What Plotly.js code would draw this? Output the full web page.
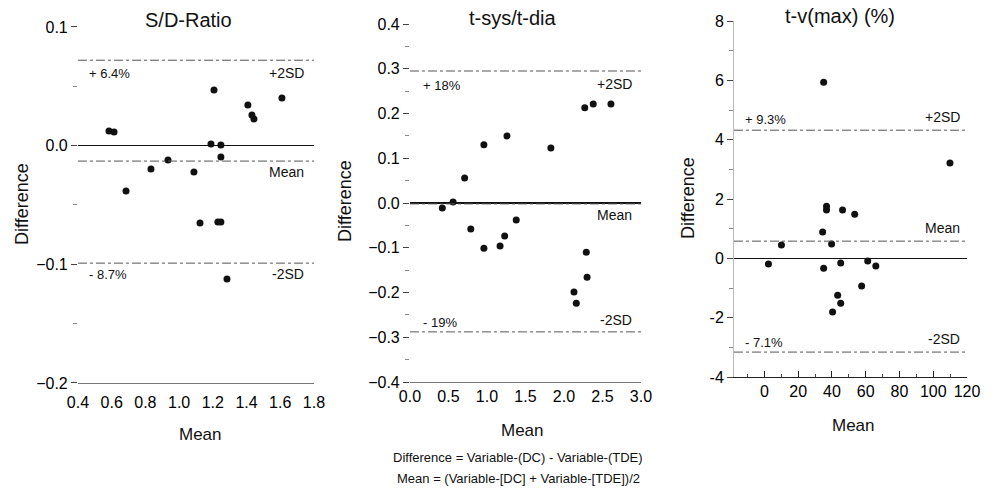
<!DOCTYPE html>
<html><head><meta charset="utf-8">
<script src="https://cdn.plot.ly/plotly-3.0.1.min.js"></script>
<style>html,body{margin:0;padding:0;background:#fff}#chart{width:997px;height:490px}</style>
</head><body><div id="chart"></div>
<script>
// ---- data ----
const panelTitles = ["S/D-Ratio", "t-sys/t-dia", "t-v(max) (%)"];

const sdMean = [0.584, 0.614, 0.685, 0.833, 0.934, 1.088, 1.124, 1.189, 1.207, 1.230, 1.248, 1.248, 1.248, 1.284, 1.408, 1.432, 1.444, 1.610];
const sdDiff = [0.0124, 0.0115, -0.0382, -0.0196, -0.0121, -0.0222, -0.0651, 0.0014, 0.0469, -0.0643, -0.0643, 0.0006, -0.0095, -0.1123, 0.0343, 0.0259, 0.0225, 0.0402];

const tsMean = [0.42, 0.56, 0.71, 0.79, 0.96, 0.96, 1.17, 1.23, 1.26, 1.38, 1.83, 2.27, 2.38, 2.61, 2.29, 2.30, 2.13, 2.16];
const tsDiff = [-0.011, 0.002, 0.056, -0.058, 0.130, -0.101, -0.096, -0.074, 0.150, -0.038, 0.123, 0.213, 0.221, 0.221, -0.110, -0.166, -0.199, -0.224];

const tvMean = [35.1, 109.9, 36.8, 36.8, 46.3, 53.5, 34.5, 10.1, 39.8, 2.4, 35.1, 45.2, 61.2, 66.0, 57.6, 43.4, 45.2, 40.4];
const tvDiff = [5.94, 3.21, 1.76, 1.63, 1.63, 1.49, 0.89, 0.45, 0.48, -0.19, -0.33, -0.16, -0.09, -0.26, -0.93, -1.24, -1.51, -1.81];

const upperSD = [0.072, 0.295, 4.32];
const meanDiff = [-0.013, -0.002, 0.58];
const lowerSD = [-0.099, -0.288, -3.16];
const upperPct = ["+ 6.4%", "+ 18%", "+ 9.3%"];
const lowerPct = ["- 8.7%", "- 19%", "- 7.1%"];
const upperLbl = "+2SD", meanLbl = "Mean", lowerLbl = "-2SD";

const sdYTicks = [0.1, 0.0, -0.1, -0.2];
const sdYText = ["0.1", "0.0", "\u22120.1", "\u22120.2"];
const tvYTicks = [8, 6, 4, 2, 0, -2, -4];
const tvYText = ["8", "6", "4", "2", "0", "-2", "-4"];
const xTitle = "Mean", yTitle = "Difference";
const footnotes = ["Difference = Variable-(DC) - Variable-(TDE)", "Mean = (Variable-[DC] + Variable-[TDE])/2"];

// ---- chart ----
const FONT = "Liberation Sans, Arial, Helvetica, sans-serif";
const mk = {color: "#111", size: 7};
const traces = [
  {x: sdMean, y: sdDiff, xaxis: "x", yaxis: "y", mode: "markers", type: "scatter", marker: mk, cliponaxis: false},
  {x: tsMean, y: tsDiff, xaxis: "x2", yaxis: "y2", mode: "markers", type: "scatter", marker: mk, cliponaxis: false},
  {x: tvMean, y: tvDiff, xaxis: "x3", yaxis: "y3", mode: "markers", type: "scatter", marker: mk, cliponaxis: false}
];

const tickFont = {family: FONT, size: 16, color: "#000"};
const baseY = {showgrid: false, zeroline: true, zerolinecolor: "#111", zerolinewidth: 1.2,
  ticks: "outside", ticklen: 6, tickcolor: "#444", tickfont: tickFont, showline: false};
const baseX = {showgrid: false, zeroline: false, showline: true, linecolor: "#777", linewidth: 1,
  ticks: "", tickfont: tickFont};

const layout = {
  width: 997, height: 490, margin: {l: 0, r: 0, t: 0, b: 0},
  paper_bgcolor: "#fff", plot_bgcolor: "#fff", showlegend: false,
  font: {family: FONT, color: "#111"},
  xaxis: Object.assign({}, baseX, {domain: [0.0782, 0.3149], range: [0.4, 1.8], dtick: 0.2, tickformat: ".1f", anchor: "y",
    ticks: "outside", ticklen: 5, tickcolor: "rgba(0,0,0,0)"}),
  yaxis: Object.assign({}, baseY, {domain: [0.2184, 0.9449], range: [-0.2, 0.1], tickmode: "array", tickvals: sdYTicks, ticktext: sdYText, anchor: "x",
    minor: {ticks: "outside", ticklen: 4, dtick: 0.05, tickcolor: "#888"}}),
  xaxis2: Object.assign({}, baseX, {domain: [0.4112, 0.6429], range: [0, 3], dtick: 0.5, tickformat: ".1f", anchor: "y2"}),
  yaxis2: Object.assign({}, baseY, {domain: [0.2204, 0.9510], range: [-0.4, 0.4], dtick: 0.1, tickformat: ".1f", anchor: "x2",
    minor: {ticks: "outside", ticklen: 4, dtick: 0.05, tickcolor: "#888"}}),
  xaxis3: Object.assign({}, baseX, {domain: [0.7362, 0.9699], range: [-18, 120], dtick: 20, anchor: "y3", linecolor: "#222",
    ticks: "inside", ticklen: 6, tickcolor: "#222", minor: {ticks: "inside", ticklen: 3, dtick: 10, tickcolor: "#444"}}),
  yaxis3: Object.assign({}, baseY, {domain: [0.2306, 0.9571], range: [-4, 8], tickmode: "array", tickvals: tvYTicks, ticktext: tvYText, anchor: "x3",
    showline: true, linecolor: "#bbb", minor: {ticks: "outside", ticklen: 4, dtick: 1, tickcolor: "#888"}}),
  shapes: [], annotations: []
};

const axN = ["", "2", "3"];
const dashS = "9px,3px,3px,3px";
const upShift = [-13, -13, 13], upPctShift = [-13, -14, 11];
const meanShift = [-11, -11, 13];
const loShift = [-11, 12, 13], loPctShift = [-11, 9, 10];
const leftPad = [9, 11, 9], rightPad = [-8, -7, -5];

for (let i = 0; i < 3; i++) {
  const xr = "x" + axN[i] + " domain", yr = "y" + axN[i];
  [upperSD[i], meanDiff[i], lowerSD[i]].forEach(v => {
    layout.shapes.push({type: "line", xref: xr, yref: yr, x0: 0, x1: 1, y0: v, y1: v,
      line: {color: "#555", width: 1, dash: dashS}});
  });
  const aF = {family: FONT, size: 14, color: "#111"};
  const pF = {family: FONT, size: 13, color: "#111"};
  layout.annotations.push(
    {xref: xr, yref: yr, x: 0, y: upperSD[i], xanchor: "left", yanchor: "middle", xshift: leftPad[i], yshift: upPctShift[i], text: upperPct[i], showarrow: false, font: pF},
    {xref: xr, yref: yr, x: 1, y: upperSD[i], xanchor: "right", yanchor: "middle", xshift: rightPad[i], yshift: upShift[i], text: upperLbl, showarrow: false, font: aF},
    {xref: xr, yref: yr, x: 1, y: meanDiff[i], xanchor: "right", yanchor: "middle", xshift: rightPad[i], yshift: meanShift[i], text: meanLbl, showarrow: false, font: aF},
    {xref: xr, yref: yr, x: 0, y: lowerSD[i], xanchor: "left", yanchor: "middle", xshift: leftPad[i], yshift: loPctShift[i], text: lowerPct[i], showarrow: false, font: pF},
    {xref: xr, yref: yr, x: 1, y: lowerSD[i], xanchor: "right", yanchor: "middle", xshift: rightPad[i], yshift: loShift[i], text: lowerLbl, showarrow: false, font: aF}
  );
}

// titles and axis titles (paper positioned)
const titleX = [188, 513, 840], titleY = [20, 18, 16];
const yTitleX = [22, 345, 688], yTitleY = [204, 201, 198];
const xTitleX = [200, 522, 853], xTitleY = [434, 430, 425];
for (let i = 0; i < 3; i++) {
  layout.annotations.push(
    {xref: "paper", yref: "paper", x: titleX[i] / 997, y: 1 - titleY[i] / 490, xanchor: "center", yanchor: "middle", text: panelTitles[i], showarrow: false, font: {family: FONT, size: 20, color: "#111"}},
    {xref: "paper", yref: "paper", x: yTitleX[i] / 997, y: 1 - yTitleY[i] / 490, xanchor: "center", yanchor: "middle", textangle: -90, text: yTitle, showarrow: false, font: {family: FONT, size: 18, color: "#111"}},
    {xref: "paper", yref: "paper", x: xTitleX[i] / 997, y: 1 - xTitleY[i] / 490, xanchor: "center", yanchor: "middle", text: xTitle, showarrow: false, font: {family: FONT, size: 17, color: "#111"}}
  );
}
layout.annotations.push(
  {xref: "paper", yref: "paper", x: 518 / 997, y: 1 - 457 / 490, xanchor: "center", yanchor: "middle", text: footnotes[0], showarrow: false, font: {family: FONT, size: 13, color: "#111"}},
  {xref: "paper", yref: "paper", x: 518 / 997, y: 1 - 478 / 490, xanchor: "center", yanchor: "middle", text: footnotes[1], showarrow: false, font: {family: FONT, size: 13, color: "#111"}}
);

Plotly.newPlot("chart", traces, layout, {staticPlot: true, displayModeBar: false});
</script>
</body></html>
